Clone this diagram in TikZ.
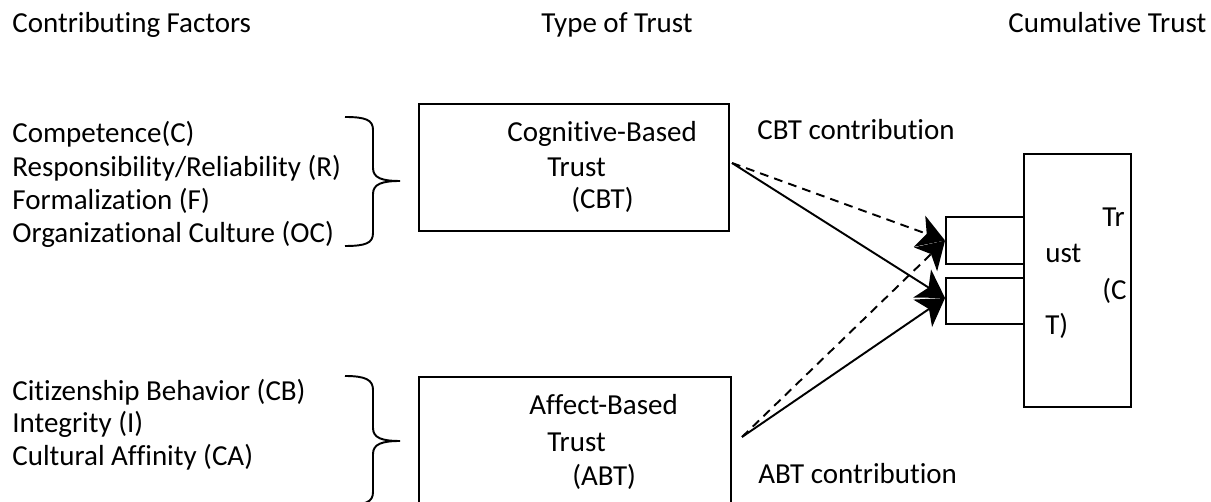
\documentclass[tikz,border=0pt]{standalone}
\usepackage{fontspec}
\setmainfont[Ligatures=NoCommon]{Carlito}
\usetikzlibrary{arrows.meta}

\tikzset{
  txt/.style={anchor=base west, inner sep=0pt, font=\fontsize{16.5}{20}\selectfont},
  trustbox/.style={draw, rectangle, line width=1.1pt, inner sep=0pt},
  contrib/.style={line width=1.1pt, -{Stealth[length=5.4mm, width=6.6mm, inset=1.5mm]}},
  dashline/.style={dash pattern=on 5pt off 3.5pt},
  brace/.style={line width=1.1pt}
}

\begin{document}
\begin{tikzpicture}[x=0.02cm, y=-0.02cm]
	\clip (0,0) rectangle (1211,502);
	
	% Ueberschriften
	\node (hfactors) [txt] at (12,33) {Contributing Factors};
	\node (htype) [txt] at (541,33) {Type of Trust};
	\node (hcumul) [txt] at (1008,33) {Cumulative Trust};
	
	% Faktoren
	\node (fc) [txt] at (12,143) {Competence(C)};
	\node (fr) [txt] at (12,177) {Responsibility/Reliability (R)};
	\node (ff) [txt] at (12,210) {Formalization (F)};
	\node (foc) [txt] at (12,243) {Organizational Culture (OC)};
	
	\node (fcb) [txt] at (12,401) {Citizenship Behavior (CB)};
	\node (fi) [txt] at (12,433) {Integrity (I)};
	\node (fca) [txt] at (12,466) {Cultural Affinity (CA)};
	
	% Klammern
	\draw[brace] (345,117) .. controls (366,117) and (373,120) .. (373,130) -- (373,168)
		.. controls (373,178) and (382,181) .. (400,181)
		.. controls (382,181) and (373,184) .. (373,194) -- (373,233)
		.. controls (373,243) and (366,246) .. (345,246);
	\draw[brace] (345,376) .. controls (366,376) and (373,380) .. (373,390) -- (373,428)
		.. controls (373,438) and (382,441) .. (400,441)
		.. controls (382,441) and (373,444) .. (373,454) -- (373,492)
		.. controls (373,502) and (366,505) .. (345,505);
	
	% CBT-Block
	\node (cbt) [trustbox, minimum width=6.2cm, minimum height=2.54cm] at (574,167.5) {};
	\node (cbt1) [txt] at (507,142) {Cognitive-Based};
	\node (cbt2) [txt] at (547,177) {Trust};
	\node (cbt3) [txt] at (571,209) {(CBT)};
	
	% ABT-Block
	\node (abt) [trustbox, minimum width=6.24cm, minimum height=3.2cm] at (575,457) {};
	\node (abt1) [txt] at (529,415) {Affect-Based};
	\node (abt2) [txt] at (547,452) {Trust};
	\node (abt3) [txt] at (572,486) {(ABT)};
	
	% Cumulative Trust
	\node (ct) [trustbox, minimum width=2.14cm, minimum height=5.06cm] at (1077.5,280.5) {};
	\node (in1) [trustbox, minimum width=1.56cm, minimum height=0.94cm] at (985,240.5) {};
	\node (in2) [trustbox, minimum width=1.56cm, minimum height=0.92cm] at (985,301) {};
	\node (ct1) [txt] at (1102,227) {Tr};
	\node (ct2) [txt] at (1045,263) {ust};
	\node (ct3) [txt] at (1102,300) {(C};
	\node (ct4) [txt] at (1045,335) {T)};
	
	% Beitraege
	\coordinate (cbtout) at (732,163);
	\coordinate (abtout) at (742,437);
	\draw[contrib, dashline] (cbtout) -- (in1.west);
	\draw[contrib] (cbtout) -- ([yshift=0.06cm]in2.west);
	\draw[contrib, dashline] (abtout) -- (in1.west);
	\draw[contrib] (abtout) -- ([yshift=0.06cm]in2.west);
	\node (lcbt) [txt] at (757,140) {CBT contribution};
	\node (labt) [txt] at (758,484) {ABT contribution};
	
\end{tikzpicture}
\end{document}
